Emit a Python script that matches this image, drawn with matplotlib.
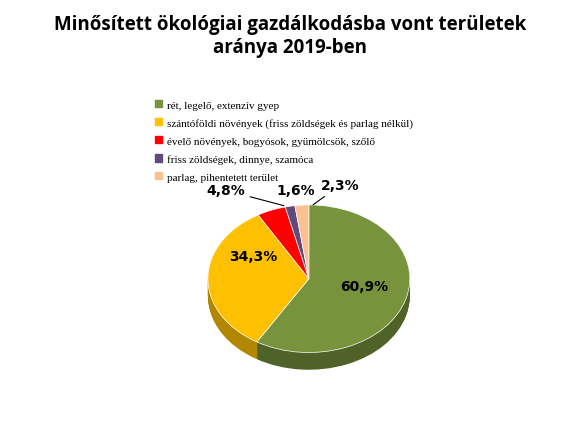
import matplotlib.pyplot as plt
from matplotlib.patches import Patch

labels = ["rét, legelő, extenzív gyep",
          "szántóföldi növények (friss zöldségek és parlag nélkül)",
          "évelő növények, bogyósok, gyümölcsök, szőlő",
          "friss zöldségek, dinnye, szamóca",
          "parlag, pihentetett terület"]
values = [60.9, 34.3, 4.8, 1.6, 2.3]
colors = ["#77933c", "#ffc000", "#ff0000", "#604a7b", "#fac090"]
dark = ["#4f6228", "#b38600", "#a00000", "#3f3151", "#c09060"]

fig = plt.figure(figsize=(5.8, 4.35), dpi=100)
fig.text(0.5, 0.965, "Minősített ökológiai gazdálkodásba vont területek\naránya 2019-ben",
         ha="center", va="top", fontsize=13.5, fontweight="bold", family="Open Sans")

ax = fig.add_axes([0.355, 0.145, 0.355, 0.385])
# depth: stacked darker copies below
for k in range(18, 0, -1):
    ax.pie(values, colors=dark, startangle=90, counterclock=False,
           center=(0, -k * 0.013), wedgeprops=dict(linewidth=0))
wedges, _ = ax.pie(values, colors=colors, startangle=90, counterclock=False,
                   wedgeprops=dict(linewidth=0.5, edgecolor="white"))
ax.set_aspect("auto")
ax.set_xlim(-1.02, 1.02)
ax.set_ylim(-1.25, 1.02)

lab = dict(fontsize=10, fontweight="bold", family="DejaVu Sans")
ax.text(0.55, -0.15, "60,9%", **lab, ha="center")
ax.text(-0.55, 0.25, "34,3%", **lab, ha="center")
ax.annotate("4,8%", xy=(-0.22, 0.98), xytext=(-1.02, 1.2), ha="left", va="center",
            arrowprops=dict(arrowstyle="-", lw=0.8, color="black"), **lab)
ax.text(-0.13, 1.2, "1,6%", ha="center", va="center", **lab)
ax.annotate("2,3%", xy=(0.02, 0.98), xytext=(0.12, 1.27), ha="left", va="center",
            arrowprops=dict(arrowstyle="-", lw=0.8, color="black"), **lab)

handles = [Patch(color=c) for c in colors]
fig.legend(handles, labels, loc="upper left", bbox_to_anchor=(0.25, 0.79),
           frameon=False, prop=dict(family="Liberation Serif", size=8),
           handlelength=0.6, handleheight=0.6, labelspacing=0.75, handletextpad=0.5)

fig.savefig("out.png", dpi=100)
